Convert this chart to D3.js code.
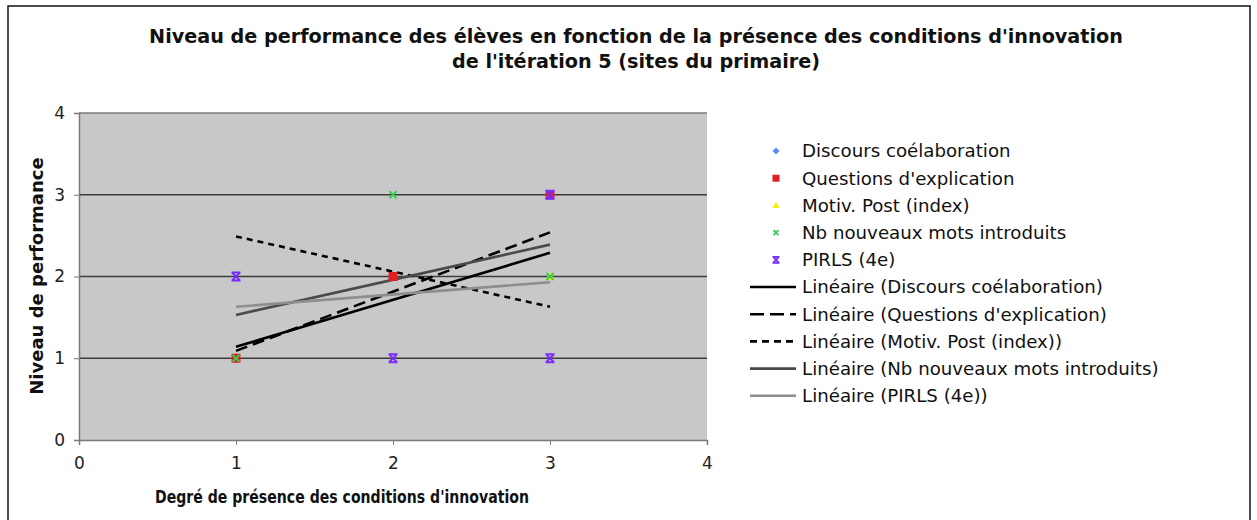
<!DOCTYPE html>
<html><head><meta charset="utf-8">
<script src="https://cdn.jsdelivr.net/npm/d3@7"></script>
<style>body{margin:0;background:#fff}svg{display:block}text{font-family:"DejaVu Sans",Verdana,sans-serif}</style>
</head><body>
<svg id="c" width="1257" height="520"></svg>
<script>
const titleLines = ["Niveau de performance des élèves en fonction de la présence des conditions d'innovation", "de l'itération 5 (sites du primaire)"];
const xTitle = "Degré de présence des conditions d'innovation";
const yTitle = "Niveau de performance";
const xTicks = [0, 1, 2, 3, 4];
const yTicks = [0, 1, 2, 3, 4];
const seriesNames = ["Discours coélaboration", "Questions d'explication", "Motiv. Post (index)", "Nb nouveaux mots introduits", "PIRLS (4e)"];
const seriesColors = ["#5b8cff", "#e02020", "#f4f000", "#33cc55", "#7a2cff"];
const seriesSymbols = ["diamond", "square", "triangle", "x", "star"];
// scatter points per series: [x, y]
const ptsDiscours = [[1, 1], [2, 2], [3, 3]];
const ptsQuestions = [[1, 1], [2, 2], [3, 3]];
const ptsMotiv = [[3, 2]];
const ptsNb = [[1, 1], [2, 3], [3, 2]];
const ptsPirls = [[1, 2], [2, 1], [3, 3], [3, 1]];
// linear trend values at x=1 and x=3
const trendX = [1, 3];
const trendDiscours = [1.14, 2.29];
const trendQuestions = [1.09, 2.54];
const trendMotiv = [2.49, 1.63];
const trendNb = [1.53, 2.39];
const trendPirls = [1.63, 1.93];
const trendNames = ["Linéaire (Discours coélaboration)", "Linéaire (Questions d'explication)", "Linéaire (Motiv. Post (index))", "Linéaire (Nb nouveaux mots introduits)", "Linéaire (PIRLS (4e))"];

const points = [ptsDiscours, ptsQuestions, ptsMotiv, ptsNb, ptsPirls];
const trends = [trendDiscours, trendQuestions, trendMotiv, trendNb, trendPirls];
const trendStyles = [
  {stroke: "#000", dash: null, legDash: null},
  {stroke: "#000", dash: "12,6", legDash: "14,6"},
  {stroke: "#000", dash: "6,5", legDash: "7,5"},
  {stroke: "#4a4a4a", dash: null, legDash: null},
  {stroke: "#8e8e8e", dash: null, legDash: null}
];

const svg = d3.select("#c");
svg.append("rect").attr("x", 8).attr("y", 6).attr("width", 1242).attr("height", 530)
  .attr("fill", "#fff").attr("stroke", "#111").attr("stroke-width", 1.5);

const L = 79, R = 707, T = 113, B = 440;
const x = d3.scaleLinear().domain([0, 4]).range([L, R]);
const y = d3.scaleLinear().domain([0, 4]).range([B, T]);

svg.append("rect").attr("x", L).attr("y", T).attr("width", R - L).attr("height", B - T).attr("fill", "#c8c8c8");

svg.append("g").selectAll("line").data(yTicks.filter(d => d > 0 && d < 4)).join("line")
  .attr("x1", L).attr("x2", R).attr("y1", d => y(d)).attr("y2", d => y(d))
  .attr("stroke", "#3c3c3c").attr("stroke-width", 1.5);
svg.append("line").attr("x1", L).attr("x2", R).attr("y1", T).attr("y2", T).attr("stroke", "#7a7a7a").attr("stroke-width", 1.5);

const xAxis = svg.append("g").attr("transform", `translate(0,${B})`)
  .call(d3.axisBottom(x).tickValues(xTicks).tickFormat(d3.format("d")).tickSize(5).tickPadding(12));
const yAxis = svg.append("g").attr("transform", `translate(${L},0)`)
  .call(d3.axisLeft(y).tickValues(yTicks).tickFormat(d3.format("d")).tickSize(5).tickPadding(9));
[xAxis, yAxis].forEach(g => {
  g.attr("font-size", 17);
  g.select(".domain").attr("stroke", "#7a7a7a").attr("stroke-width", 1.5);
  g.selectAll(".tick line").attr("stroke", "#7a7a7a");
  g.selectAll(".tick text").attr("font-size", 17).attr("fill", "#222").attr("font-family", "DejaVu Sans, sans-serif");
});

trends.forEach((t, i) => {
  svg.append("line")
    .attr("x1", x(trendX[0])).attr("y1", y(t[0]))
    .attr("x2", x(trendX[1])).attr("y2", y(t[1]))
    .attr("stroke", trendStyles[i].stroke).attr("stroke-width", 2.6)
    .attr("stroke-dasharray", trendStyles[i].dash);
});

function marker(g, sym, cx, cy, color, s) {
  if (sym === "diamond") g.append("path").attr("d", `M${cx},${cy - s}L${cx + s},${cy}L${cx},${cy + s}L${cx - s},${cy}Z`).attr("fill", color);
  else if (sym === "square") g.append("rect").attr("x", cx - s).attr("y", cy - s).attr("width", 2 * s).attr("height", 2 * s).attr("fill", color);
  else if (sym === "triangle") g.append("path").attr("d", `M${cx},${cy - s}L${cx + s},${cy + s - 1}L${cx - s},${cy + s - 1}Z`).attr("fill", color);
  else if (sym === "x") g.append("path").attr("d", `M${cx - s + 1},${cy - s + 1}L${cx + s - 1},${cy + s - 1}M${cx + s - 1},${cy - s + 1}L${cx - s + 1},${cy + s - 1}`).attr("stroke", color).attr("stroke-width", 1.8);
  else if (sym === "star") g.append("path").attr("d", `M${cx - s + 1},${cy - s + 1}L${cx + s - 1},${cy + s - 1}M${cx + s - 1},${cy - s + 1}L${cx - s + 1},${cy + s - 1}M${cx - s},${cy - s + 0.5}H${cx + s}M${cx - s},${cy + s - 0.5}H${cx + s}`).attr("stroke", color).attr("stroke-width", 1.8);
}

const mg = svg.append("g");
points.forEach((pts, i) => {
  pts.forEach(p => marker(mg, seriesSymbols[i], x(p[0]), y(p[1]), seriesColors[i], 4.5));
});

svg.append("g").selectAll("text").data(titleLines).join("text")
  .attr("x", 636).attr("y", (d, i) => 43 + i * 25).attr("text-anchor", "middle")
  .attr("font-size", 19.2).attr("font-weight", "bold").attr("fill", "#111").text(d => d);
svg.append("text").attr("x", 342).attr("y", 503).attr("text-anchor", "middle")
  .attr("font-size", 17).attr("font-weight", "bold").attr("fill", "#111")
  .attr("textLength", 374).attr("lengthAdjust", "spacingAndGlyphs").text(xTitle);
svg.append("text").attr("transform", `translate(43,276) rotate(-90)`).attr("text-anchor", "middle")
  .attr("font-size", 18).attr("font-weight", "bold").attr("fill", "#111").text(yTitle);

const lg = svg.append("g");
const rowY = i => 151 + i * 27.2;
seriesNames.forEach((n, i) => {
  marker(lg, seriesSymbols[i], 776, rowY(i), seriesColors[i], 3.5);
  lg.append("text").attr("x", 802).attr("y", rowY(i)).attr("dy", "0.35em").attr("font-size", 18.2).attr("fill", "#111").text(n);
});
trendNames.forEach((n, j) => {
  const i = j + 5;
  lg.append("line").attr("x1", 750).attr("x2", 796).attr("y1", rowY(i)).attr("y2", rowY(i))
    .attr("stroke", trendStyles[j].stroke).attr("stroke-width", 2.6).attr("stroke-dasharray", trendStyles[j].legDash);
  lg.append("text").attr("x", 802).attr("y", rowY(i)).attr("dy", "0.35em").attr("font-size", 18.2).attr("fill", "#111").text(n);
});
</script>
</body></html>
